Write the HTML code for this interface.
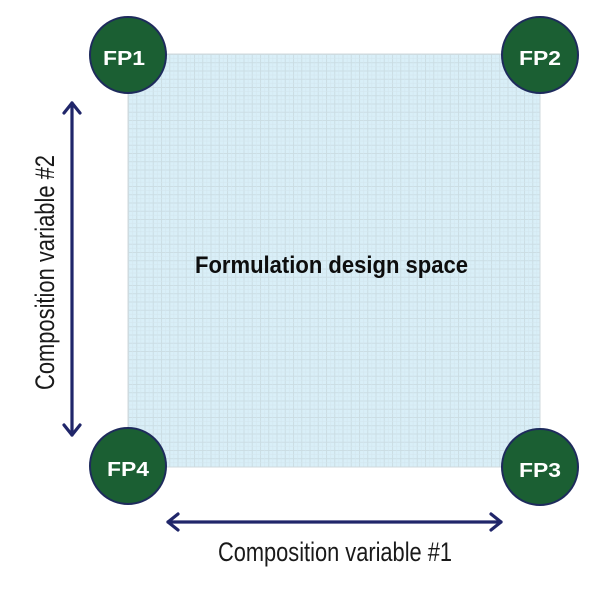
<!DOCTYPE html>
<html><head><meta charset="utf-8"><style>
html,body{margin:0;padding:0;background:#fff;}
svg{display:block;}
</style></head><body>
<svg width="608" height="598" viewBox="0 0 608 598" xmlns="http://www.w3.org/2000/svg">
<defs>
<pattern id="fine" width="8.25" height="8.25" patternUnits="userSpaceOnUse" x="128" y="54">
<rect width="8.25" height="8.25" fill="#d9eff8"/>
<path d="M0 0.5H8.25M0.5 0V8.25" stroke="#cbdde4" stroke-width="1" fill="none"/>
<path d="M0 4.6H8.25M4.6 0V8.25" stroke="#d3e6ee" stroke-width="0.6" fill="none"/>
</pattern>
</defs>
<rect x="128" y="54" width="412" height="413" fill="url(#fine)" stroke="#cfd8dc" stroke-width="1"/>

<g stroke="#20266a" stroke-width="3.2" fill="none" stroke-linecap="round" stroke-linejoin="round">
<line x1="72" y1="103" x2="72" y2="435"/>
<polyline points="64,113 72,103 80,113"/>
<polyline points="64,425 72,435 80,425"/>
<line x1="168" y1="522" x2="501" y2="522"/>
<polyline points="178,514 168,522 178,530"/>
<polyline points="491,514 501,522 491,530"/>
</g>

<g fill="#1b5f33" stroke="#1e2b5c" stroke-width="2">
<circle cx="128" cy="55" r="38"/>
<circle cx="540" cy="55" r="38"/>
<circle cx="128" cy="466" r="38"/>
<circle cx="540" cy="467" r="38"/>
</g>
<g fill="#ffffff" font-family="Liberation Sans, Arial, sans-serif" font-weight="bold" font-size="20" text-anchor="middle">
<text x="124" y="65" textLength="42" lengthAdjust="spacingAndGlyphs">FP1</text>
<text x="540" y="65" textLength="42" lengthAdjust="spacingAndGlyphs">FP2</text>
<text x="128" y="476" textLength="42" lengthAdjust="spacingAndGlyphs">FP4</text>
<text x="540" y="477" textLength="42" lengthAdjust="spacingAndGlyphs">FP3</text>
</g>

<text x="195" y="273" font-family="Liberation Sans, Arial, sans-serif" font-weight="bold" font-size="24" fill="#0d0d0d" textLength="273" lengthAdjust="spacingAndGlyphs">Formulation design space</text>

<text x="218" y="561" font-family="Liberation Sans, Arial, sans-serif" font-size="27" fill="#1a1a1a" textLength="234" lengthAdjust="spacingAndGlyphs">Composition variable #1</text>

<text transform="translate(54,390) rotate(-90)" x="0" y="0" font-family="Liberation Sans, Arial, sans-serif" font-size="27" fill="#1a1a1a" textLength="235" lengthAdjust="spacingAndGlyphs">Composition variable #2</text>
</svg>
</body></html>
